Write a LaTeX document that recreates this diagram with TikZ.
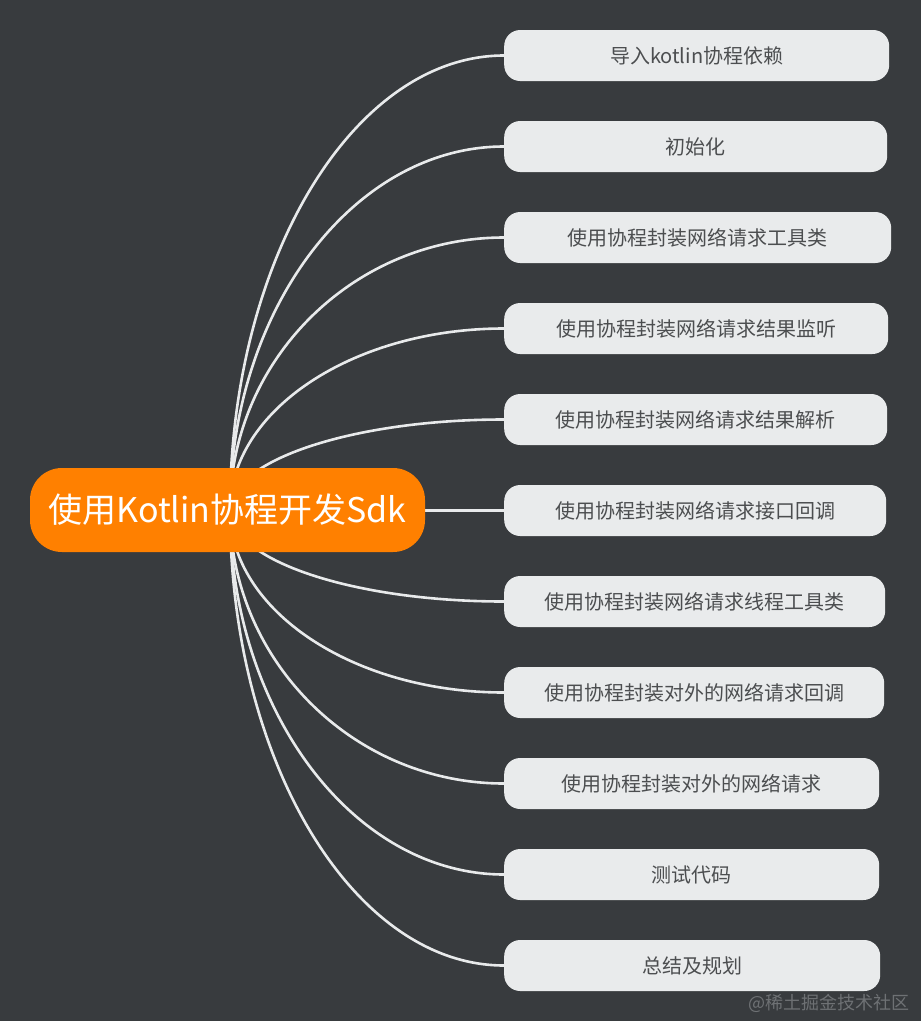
\documentclass[tikz,border=0pt]{standalone}
\usepackage{fontspec}
\newfontfamily\cjk{Noto Sans CJK SC}
\usetikzlibrary{calc}
\definecolor{bgc}{HTML}{383B3E}
\definecolor{rootc}{HTML}{FF8000}
\definecolor{boxc}{HTML}{E9EBEC}
\definecolor{txtc}{HTML}{4C4E50}
\definecolor{linec}{HTML}{E8EAEB}
\definecolor{wmc}{HTML}{6E7174}
\tikzset{
  rootbox/.style={fill=rootc, rounded corners=32pt, minimum width=395pt, minimum height=84pt, inner sep=0pt, text=white, font=\cjk\fontsize{34}{40}\selectfont},
  leafbox/.style={fill=boxc, rounded corners=16pt, minimum height=51pt, inner sep=0pt, anchor=west, text=txtc, font=\cjk\fontsize{20}{24}\selectfont},
  conn/.style={draw=linec, line width=2.6pt, line cap=round},
}
\begin{document}
\begin{tikzpicture}[x=1pt,y=-1pt]
\fill[bgc] (0,0) rectangle (921,1021);
\useasboundingbox (0,0) rectangle (921,1021);
\coordinate (o) at (230,510);
\foreach \i/\y/\r/\t in {
  1/55.5/889/导入kotlin协程依赖,
  2/146.5/887/初始化,
  3/237.5/891/使用协程封装网络请求工具类,
  4/328.5/888/使用协程封装网络请求结果监听,
  5/419.5/887/使用协程封装网络请求结果解析,
  6/510.5/886/使用协程封装网络请求接口回调,
  7/601.5/885/使用协程封装网络请求线程工具类,
  8/692.5/884/使用协程封装对外的网络请求回调,
  9/783.5/879/使用协程封装对外的网络请求,
  10/874.5/879/测试代码,
  11/965.5/880/总结及规划}{
  \pgfmathsetmacro{\w}{\r-504}
  \node[leafbox, minimum width=\w pt] (c\i) at (504,\y) {\t};
  \draw[conn] (o) .. controls ($(o)!0.55!(o|-c\i.west)$) and ($(c\i.west)!0.55!(o|-c\i.west)$) .. (c\i.west);
}
\node[rootbox] (root) at (227.5,510) {使用Kotlin协程开发Sdk};
\node[text=wmc, font=\cjk\fontsize{18}{22}\selectfont, anchor=east] (wm) at (913,1003) {@稀土掘金技术社区};
\end{tikzpicture}
\end{document}
